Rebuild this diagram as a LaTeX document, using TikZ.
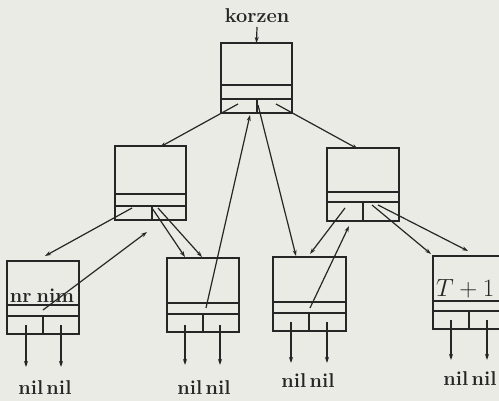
\documentclass[tikz,border=0pt]{standalone}
\usetikzlibrary{arrows.meta}
\definecolor{paper}{RGB}{234,235,228}
\definecolor{ink}{RGB}{38,38,38}
\newcommand{\tbox}[8]{%
  \node[box, minimum width={(#3-#2)*1pt}, minimum height={(#7-#4)*1pt}] (#1) at ({(#2+#3)/2},{(#4+#7)/2}) {};
  \draw[boxline] (#2,#5) -- (#3,#5) (#2,#6) -- (#3,#6) (#8,#6) -- (#8,#7);
}
\newcommand{\nilnil}{nil\kern3pt nil}
\begin{document}
\begin{tikzpicture}[x=1pt,y=-1pt,
  box/.style={draw=ink, line width=1.6pt, inner sep=0pt, outer sep=0pt},
  boxline/.style={draw=ink, line width=1.6pt},
  arr/.style={draw=ink, line width=1.2pt, -{Stealth[length=6pt,width=4pt]}},
  lbl/.style={text=ink, font=\fontsize{20}{24}\selectfont\bfseries, inner sep=0pt},
  mlbl/.style={text=ink, font=\fontsize{24}{28}\selectfont, inner sep=0pt}]
\fill[paper] (0,0) rectangle (499,401);
\clip (0,0) rectangle (499,401);
% boxes
\tbox{R}{221}{292}{43}{85}{99}{113}{257}
\tbox{A}{115}{186}{146}{194}{206}{220}{152}
\tbox{B}{327}{399}{148}{192}{202}{221}{363}
\tbox{LA}{7}{79}{261}{305}{316}{334}{43}
\tbox{LB}{167}{239}{258}{303}{314}{332}{203}
\tbox{LC}{273}{346}{257}{302}{313}{331}{309}
\tbox{LD}{433}{505}{256}{301}{311}{329}{469}
% texts
\node[lbl, anchor=base] (k) at (257,23) {korzen};
\node[lbl, anchor=base] (nr) at (42,303) {nr\kern5pt nim};
\node[mlbl, anchor=base west] (t1) at (436,297) {$T+1$};
\node[lbl, anchor=base] (n1) at (45,395) {\nilnil};
\node[lbl, anchor=base] (n2) at (204,395) {\nilnil};
\node[lbl, anchor=base] (n3) at (308,388) {\nilnil};
\node[lbl, anchor=base] (n4) at (470,386) {\nilnil};
% field points
\coordinate (R-l) at (238,104);
\coordinate (R-r) at (276,104);
\coordinate (R-m) at (258,105);
\coordinate (R-in) at (250,115);
\coordinate (A-l) at (132,208);
\coordinate (A-r1) at (152,208);
\coordinate (A-r2) at (158,208);
\coordinate (A-in) at (160,147);
\coordinate (A-in2) at (147,232);
\coordinate (B-l) at (345,208);
\coordinate (B-r1) at (372,205);
\coordinate (B-r2) at (378,205);
\coordinate (B-in) at (358,149);
\coordinate (B-in2) at (349,226);
\coordinate (LA-m) at (43,310);
\coordinate (LA-in) at (45,256);
\coordinate (LB-m) at (206,308);
\coordinate (LB-in1) at (185,257);
\coordinate (LB-in2) at (202,257);
\coordinate (LC-m) at (310,308);
\coordinate (LC-in1) at (296,256);
\coordinate (LC-in2) at (310,254);
\coordinate (LD-in1) at (431,254);
\coordinate (LD-in2) at (468,251);
% connectors
\draw[arr] ([yshift=-4pt]k.base) -- (R.north);
\draw[arr] (R-l) -- (A-in);
\draw[arr] (R-r) -- (B-in);
\draw[arr] (R-m) -- (LC-in1);
\draw[arr] (LB-m) -- (R-in);
\draw[arr] (A-l) -- (LA-in);
\draw[arr] (A-r1) -- (LB-in1);
\draw[arr] (A-r2) -- (LB-in2);
\draw[arr] (LA-m) -- (A-in2);
\draw[arr] (B-l) -- (LC-in2);
\draw[arr] (LC-m) -- (B-in2);
\draw[arr] (B-r1) -- (LD-in1);
\draw[arr] (B-r2) -- (LD-in2);
% nil pointers
\foreach \nm/\xa/\xb/\ya/\yb in {p1/26/61/325/367, p2/185/220/325/365, p3/291/327/322/363, p4/451/487/320/360}{
  \coordinate (\nm-a) at (\xa,\ya);
  \coordinate (\nm-b) at (\xa,\yb);
  \coordinate (\nm-c) at (\xb,\ya);
  \coordinate (\nm-d) at (\xb,\yb);
  \draw[arr] (\nm-a) -- (\nm-b);
  \draw[arr] (\nm-c) -- (\nm-d);
}
\end{tikzpicture}
\end{document}
